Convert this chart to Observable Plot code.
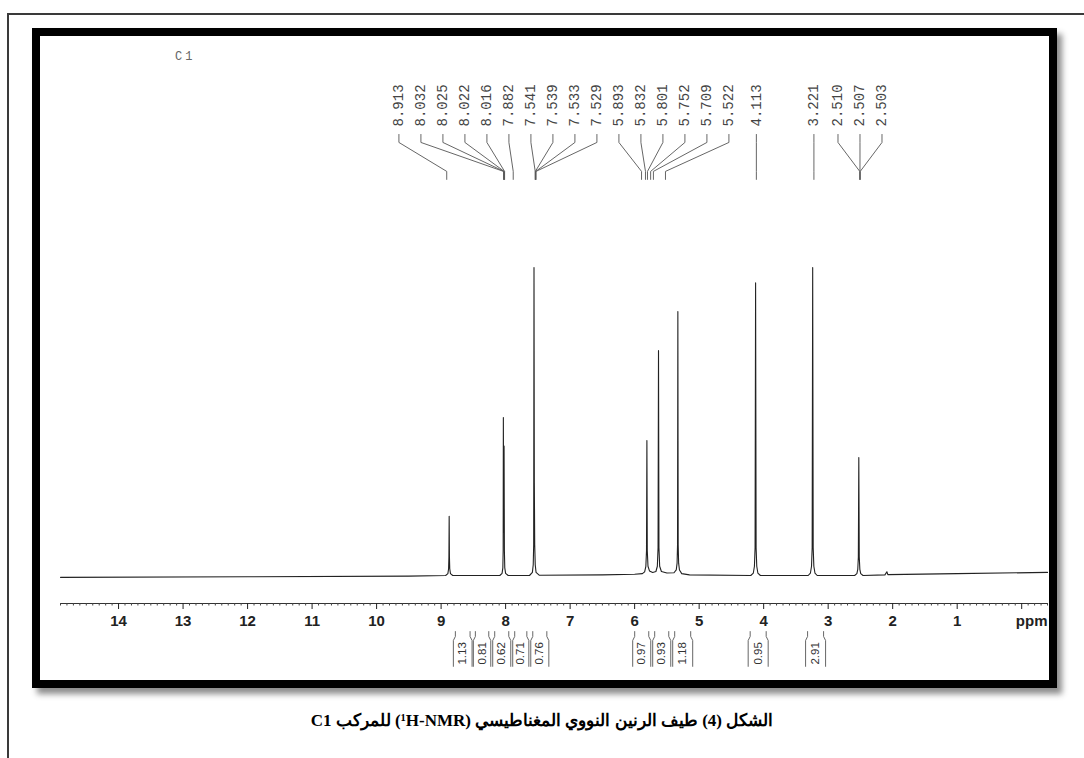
<!DOCTYPE html>
<html><head><meta charset="utf-8">
<script src="https://cdn.jsdelivr.net/npm/d3@7"></script>
<script src="https://cdn.jsdelivr.net/npm/@observablehq/plot@0.6"></script>
<style>
html,body{margin:0;padding:0;background:#fff;}
body{width:1084px;height:758px;position:relative;overflow:hidden;font-family:"Liberation Sans",Arial,sans-serif;}
#page{position:absolute;left:7px;top:13px;right:-10px;bottom:-10px;border-top:2px solid #3a3a3a;border-left:2px solid #3a3a3a;}
#frame{position:absolute;left:32px;top:28px;width:1009px;height:644px;border:8px solid #000;box-shadow:5px 6px 6px rgba(0,0,0,0.45);background:#fff;}
#chart{position:absolute;left:0;top:0;}
#sample{position:absolute;left:135px;top:14px;font:12px "Liberation Mono",monospace;letter-spacing:3px;color:#666;}
#caption{position:absolute;left:0;width:1084px;top:710px;text-align:center;font:bold 17px "Liberation Serif","Times New Roman",serif;color:#000;}
#caption .ltr{unicode-bidi:isolate;direction:ltr;}
</style></head>
<body>
<div id="page"></div>
<div id="frame"><div id="chart"></div><div id="sample">C1</div></div>
<div id="caption" dir="rtl">الشكل (4) طيف الرنين النووي المغناطيسي <span class="ltr">(¹H-NMR)</span> للمركب C1</div>
<script>
// ---- data ----
const pickLabels = ["8.913","8.032","8.025","8.022","8.016","7.882","7.541","7.539","7.533","7.529",
  "5.893","5.832","5.801","5.752","5.709","5.522","4.113","3.221","2.510","2.507","2.503"];
const pickPpm = pickLabels.map(Number);

const integralValues = ["1.13","0.81","0.62","0.71","0.76","0.97","0.93","1.18","0.95","2.91"];
const integralFrom = [8.81, 8.50, 8.20, 7.89, 7.61, 6.03, 5.72, 5.41, 4.24, 3.35];
const integralTo   = [8.52, 8.23, 7.92, 7.64, 7.33, 5.75, 5.44, 5.10, 3.93, 3.04];

const majorTicks = [0,1,2,3,4,5,6,7,8,9,10,11,12,13,14];
const majorTickLabels = ["","1","2","3","4","5","6","7","8","9","10","11","12","13","14"];
const axisUnit = "ppm";

// spectrum trace: [ppm, intensity]
const spectrum = [
  [14.9,-0.6],[12.0,-0.4],[9.5,-0.2],
  [8.93,0],[8.895,0.6],[8.884,2.2],[8.879,6],[8.875,19.2],[8.871,6],[8.866,2.2],[8.855,0.6],[8.82,0],
  [8.09,0],[8.055,0.7],[8.043,2.5],[8.038,8],[8.035,51.3],[8.03,14],[8.024,42],[8.019,8],[8.013,2.5],[8.0,0.7],[7.96,0],
  [7.63,0],[7.585,1],[7.572,3.5],[7.565,10],[7.56,100],[7.555,30],[7.549,10],[7.541,3.5],[7.528,1],[7.48,0.1],
  [6.5,0.2],[6.0,0.4],
  [5.88,0.6],[5.845,1.2],[5.826,3],[5.816,8],[5.81,43.8],[5.804,8],[5.793,3],[5.77,1.5],[5.72,1.0],
  [5.67,1.3],[5.648,3],[5.637,9],[5.63,73],[5.623,9],[5.612,3],[5.585,1.3],[5.5,0.8],
  [5.39,0.9],[5.355,1.8],[5.342,4],[5.335,10],[5.33,85.7],[5.325,10],[5.318,4],[5.305,1.8],[5.27,0.6],[5.15,0.2],
  [4.2,0],[4.16,0.8],[4.143,3],[4.133,9],[4.125,95],[4.117,9],[4.107,3],[4.09,0.8],[4.05,0],
  [3.31,0],[3.275,0.8],[3.258,3],[3.248,9],[3.24,100],[3.232,9],[3.222,3],[3.205,0.8],[3.17,0],
  [2.59,0],[2.555,0.6],[2.541,2],[2.532,6],[2.525,38.3],[2.518,6],[2.509,2],[2.495,0.6],[2.46,0],
  [2.12,0.2],[2.09,1.2],[2.075,0.3],
  [1.0,0.6],[-0.4,1.0]
];

// ---- layout ----
const W = 1008, H = 644;
const xDomain = [14.9, -0.4];
const xRange = [20, W - 1];
const xScale = Plot.scale({x: {domain: xDomain, range: xRange}});
const yDomain = [0, 100], yRange = [539, 231];

// label levels (in intensity units on the y scale)
const LV = {text: 145.8, top: 143.2, bend: 140.6, low: 131.2, bottom: 128.6};
const IY = {top: -18.2, hook: -19.8, corner: -21.1, bottom: -29.5, text: -25.3};

// spread peak labels evenly (Bruker-style), in pixels
const GAP = 22;
const items = pickPpm.map((p, i) => ({i, px: xScale.apply(p)})).sort((a, b) => a.px - b.px);
const clusters = [];
for (const it of items) {
  clusters.push({items: [it], sum: it.px});
  while (clusters.length > 1) {
    const b = clusters[clusters.length - 1], a = clusters[clusters.length - 2];
    const left = c => c.sum / c.items.length - (c.items.length - 1) * GAP / 2;
    if (left(a) + a.items.length * GAP > left(b)) {
      clusters.pop(); clusters.pop();
      clusters.push({items: a.items.concat(b.items), sum: a.sum + b.sum});
    } else break;
  }
}
const slotPpm = new Array(pickPpm.length);
for (const c of clusters) {
  const n = c.items.length, l = c.sum / n - (n - 1) * GAP / 2;
  c.items.forEach((it, k) => { slotPpm[it.i] = xScale.invert(l + k * GAP); });
}
const connectors = pickPpm.flatMap((p, i) => [
  {k: i, x: slotPpm[i], y: LV.top}, {k: i, x: slotPpm[i], y: LV.bend},
  {k: i, x: p, y: LV.low}, {k: i, x: p, y: LV.bottom}
]);

const HOOK = 2;
const brackets = integralFrom.flatMap((a, i) => {
  const xa = xScale.apply(a), xb = xScale.apply(integralTo[i]);
  const side = (k, x0, dx) => [[x0 + dx, IY.top], [x0 + dx, IY.hook], [x0, IY.corner], [x0, IY.bottom]]
    .map(([x, y]) => ({k, x: xScale.invert(x), y}));
  return [...side("L" + i, xa, HOOK), ...side("R" + i, xb, -HOOK)];
});

const minorTicks = d3.range(-4, 150).map(d => d / 10).filter(d => !Number.isInteger(d));
const tickLabelMap = new Map(majorTicks.map((t, i) => [t, majorTickLabels[i]]));

const chart = Plot.plot({
  width: W, height: H,
  marginLeft: xRange[0], marginRight: W - xRange[1], marginTop: 0, marginBottom: H - 567,
  x: {domain: xDomain, axis: null},
  y: {domain: yDomain, range: yRange, axis: null},
  style: {background: "transparent", overflow: "visible"},
  marks: [
    Plot.frame({anchor: "bottom", stroke: "#333", strokeWidth: 1}),
    Plot.axisX(minorTicks, {tickSize: 2.5, tickFormat: () => "", stroke: "#444", label: null}),
    Plot.axisX(majorTicks, {tickSize: 6, tickPadding: 6, tickFormat: d => tickLabelMap.get(d),
      fontSize: 15, fontWeight: "bold", fontFamily: "Liberation Sans, Arial, sans-serif", color: "#222", label: null}),
    Plot.text([axisUnit], {frameAnchor: "bottom-right", text: d => d, textAnchor: "end", lineAnchor: "top",
      dy: 12, fontSize: 15, fontWeight: "bold", fontFamily: "Liberation Sans, Arial, sans-serif", fill: "#222"}),
    Plot.line(spectrum, {x: d => d[0], y: d => d[1], stroke: "#222", strokeWidth: 1.1}),
    Plot.line(connectors, {x: "x", y: "y", z: "k", stroke: "#555", strokeWidth: 0.9}),
    Plot.text(pickLabels, {x: (d, i) => slotPpm[i], y: () => LV.text, text: d => d, rotate: -90,
      textAnchor: "start", fontFamily: "Liberation Mono, monospace", fontSize: 14, fill: "#444"}),
    Plot.line(brackets, {x: "x", y: "y", z: "k", stroke: "#555", strokeWidth: 0.9}),
    Plot.text(integralValues, {x: (d, i) => (integralFrom[i] + integralTo[i]) / 2, y: () => IY.text, text: d => d,
      rotate: -90, fontFamily: "Liberation Sans, Arial, sans-serif", fontSize: 11.5, fill: "#333"})
  ]
});
document.getElementById("chart").appendChild(chart);
</script>
</body></html>
